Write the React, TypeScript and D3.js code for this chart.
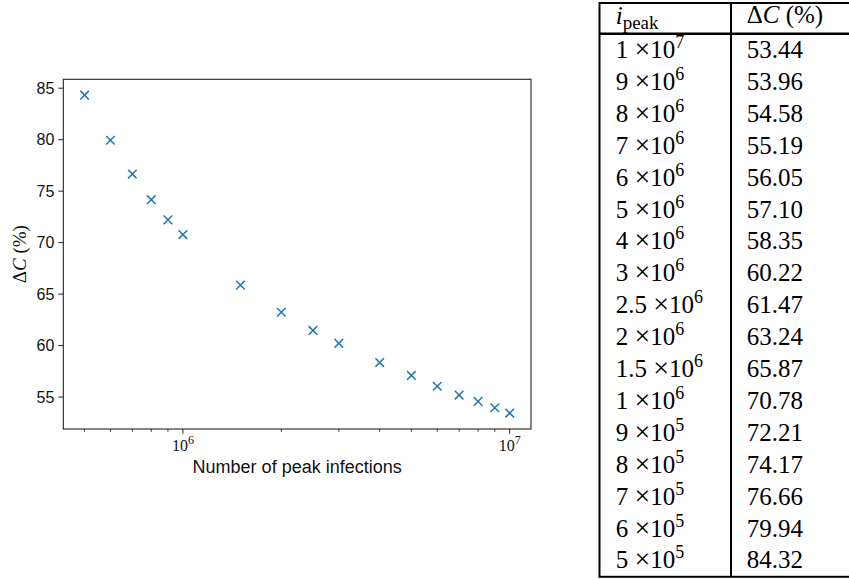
import * as d3 from "d3";

// table rows, top to bottom (peak infections as mantissa x 10^exponent)
const peakMantissa = ["1", "9", "8", "7", "6", "5", "4", "3", "2.5", "2", "1.5", "1", "9", "8", "7", "6", "5"];
const peakExponent = [7, 6, 6, 6, 6, 6, 6, 6, 6, 6, 6, 6, 5, 5, 5, 5, 5];
const deltaC = [53.44, 53.96, 54.58, 55.19, 56.05, 57.1, 58.35, 60.22, 61.47, 63.24, 65.87, 70.78, 72.21, 74.17, 76.66, 79.94, 84.32];

const yTicks = [55, 60, 65, 70, 75, 80, 85];
const xMajorTicks = [1e6, 1e7];
const xMinorTicks = [5e5, 6e5, 7e5, 8e5, 9e5, 2e6, 3e6, 4e6, 5e6, 6e6, 7e6, 8e6, 9e6];

const W = 849;
const H = 580;
const SANS = "'Liberation Sans', Arial, sans-serif";
const SERIF = "'Liberation Serif', 'Times New Roman', serif";

const peaks = peakMantissa.map((m, i) => +m * Math.pow(10, peakExponent[i]));

// plot box
const left = 63.3, right = 531, top = 79.3, bottom = 429;

// matplotlib-like 5% margins (log space for x)
const lx = d3.extent(peaks.map(Math.log10)) as [number, number];
const padX = (lx[1] - lx[0]) * 0.05;
const x = d3.scaleLog()
  .domain([Math.pow(10, lx[0] - padX), Math.pow(10, lx[1] + padX)])
  .range([left, right]);

const ey = d3.extent(deltaC) as [number, number];
const padY = (ey[1] - ey[0]) * 0.05;
const y = d3.scaleLinear()
  .domain([ey[0] - padY, ey[1] + padY])
  .range([bottom, top]);

const COLOR = "#1f77b4";

// table geometry
const tLeft = 599.5, tTop = 3, tDiv = 731, tHead = 33.8, rowH = 31.9;

export default function App() {
  const m = 4.3;
  return (
    <svg width={W} height={H} style={{ position: "absolute", left: 0, top: 0, background: "#fff" }}>
      <rect width={W} height={H} fill="#fff" />

      {/* axes frame */}
      <rect x={left} y={top} width={right - left} height={bottom - top} fill="none" stroke="#222" strokeWidth={1.1} />

      {/* y ticks */}
      {yTicks.map((t) => (
        <g key={"y" + t}>
          <line x1={left - 5} x2={left} y1={y(t)} y2={y(t)} stroke="#222" strokeWidth={1} />
          <text x={left - 9} y={y(t)} dy="0.36em" textAnchor="end" fontFamily={SANS} fontSize={16} fill="#111">
            {t}
          </text>
        </g>
      ))}

      {/* x ticks */}
      {xMinorTicks.map((t) => (
        <line key={"xm" + t} x1={x(t)} x2={x(t)} y1={bottom} y2={bottom + 2.8} stroke="#222" strokeWidth={0.9} />
      ))}
      {xMajorTicks.map((t) => (
        <g key={"x" + t}>
          <line x1={x(t)} x2={x(t)} y1={bottom} y2={bottom + 4.8} stroke="#222" strokeWidth={1} />
          <text x={x(t)} y={451} textAnchor="middle" fontFamily={SERIF} fontSize={16} fill="#111">
            10
            <tspan fontSize={12} dy={-7}>{Math.round(Math.log10(t))}</tspan>
          </text>
        </g>
      ))}

      {/* axis labels */}
      <text x={(left + right) / 2} y={473} textAnchor="middle" fontFamily={SANS} fontSize={18} fill="#111">
        Number of peak infections
      </text>
      <text transform={`translate(26,${(top + bottom) / 2}) rotate(-90)`} textAnchor="middle" fontFamily={SERIF} fontSize={19} fill="#111">
        Δ<tspan fontStyle="italic">C</tspan> (%)
      </text>

      {/* markers */}
      {peaks.map((p, i) => (
        <path
          key={"pt" + i}
          d={`M${x(p) - m},${y(deltaC[i]) - m}L${x(p) + m},${y(deltaC[i]) + m}M${x(p) - m},${y(deltaC[i]) + m}L${x(p) + m},${y(deltaC[i]) - m}`}
          stroke={COLOR}
          strokeWidth={1.5}
          fill="none"
        />
      ))}

      {/* table */}
      <g fontFamily={SERIF} fill="#000">
        <rect x={tLeft} y={tTop} width={W + 20 - tLeft} height={576.8 - tTop} fill="none" stroke="#000" strokeWidth={2} />
        <line x1={tDiv} x2={tDiv} y1={tTop} y2={576.8} stroke="#000" strokeWidth={2} />
        <line x1={tLeft} x2={W + 20} y1={tHead} y2={tHead} stroke="#000" strokeWidth={2.6} />

        <text x={615.7} y={24} fontSize={25}>
          <tspan fontStyle="italic">i</tspan>
          <tspan fontSize={19} dy={5}>peak</tspan>
        </text>
        <text x={746.7} y={23} fontSize={25}>
          Δ<tspan fontStyle="italic">C</tspan> (%)
        </text>

        {peakMantissa.map((mm, i) => {
          const base = tHead + i * rowH + 24.2;
          return (
            <g key={"row" + i}>
              <text x={615.7} y={base} fontSize={25}>
                {mm} <tspan fontSize={28}>×</tspan>10
                <tspan fontSize={18} dy={-10}>{peakExponent[i]}</tspan>
              </text>
              <text x={746.7} y={base} fontSize={25}>
                {deltaC[i].toFixed(2)}
              </text>
            </g>
          );
        })}
      </g>
    </svg>
  );
}
